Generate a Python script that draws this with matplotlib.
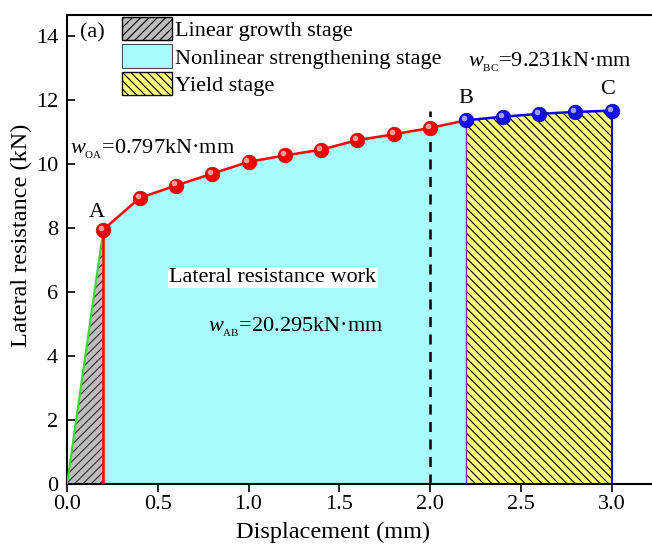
import numpy as np
import matplotlib
matplotlib.use("Agg")
import matplotlib.pyplot as plt
from matplotlib.patches import Patch
from matplotlib.transforms import ScaledTranslation

plt.rcParams['font.family'] = ['Liberation Serif']
plt.rcParams['mathtext.fontset'] = 'custom'
plt.rcParams['mathtext.rm'] = 'Liberation Serif'
plt.rcParams['mathtext.it'] = 'Liberation Serif:italic'
plt.rcParams['hatch.linewidth'] = 0.8

# displacement (mm) and lateral resistance (kN)
disp = [0.2, 0.4, 0.6, 0.8, 1.0, 1.2, 1.4, 1.6, 1.8, 2.0, 2.2, 2.4, 2.6, 2.8, 3.0]
load = [7.95, 8.94, 9.33, 9.70, 10.07, 10.27, 10.45, 10.75, 10.93, 11.13,
        11.37, 11.48, 11.57, 11.63, 11.67]
i_B = 10  # index of point B (2.2 mm)
x_dash = 2.0

stage_labels = ["Linear growth stage", "Nonlinear strengthening stage", "Yield stage"]
work_labels = ["0.797", "20.295", "9.231"]

cyan = "#a9fcfc"
yellow = "#ffff80"
gray = "#bdbdbd"

fig = plt.figure(figsize=(6.52, 5.55), dpi=100)
ax = fig.add_axes([67/652, 71/555, 590/652, 469/555])

xA, yA = disp[0], load[0]
# linear stage
ax.fill([0, xA, xA], [0, yA, 0], facecolor=gray, edgecolor="#303030", hatch="////", lw=0)
ax.plot([0, xA], [0, yA], color="#33dd33", lw=1.5, zorder=3)
# nonlinear stage
ax.fill_between(disp[:i_B+1], load[:i_B+1], 0, facecolor=cyan, lw=0)
ax.plot([xA, xA], [0, yA], color="red", lw=1.8, zorder=3)
# yield stage
ax.fill_between(disp[i_B:], load[i_B:], 0, facecolor=yellow, edgecolor="black", hatch="\\\\\\\\", lw=0)
ax.plot([disp[i_B], disp[i_B]], [0, load[i_B]], color="#7030a0", lw=1.0, zorder=3)
ax.plot([disp[-1], disp[-1]], [0, load[-1]], color="blue", lw=1.5, zorder=3)

# dashed line at 2.0 mm
ax.plot([x_dash, x_dash], [0, 11.65], color="black", ls=(0, (4, 3)), lw=1.8, zorder=4)

# curves with "ball" markers
ax.plot(disp[:i_B+1], load[:i_B+1], color="red", lw=1.8, zorder=5)
ax.plot(disp[i_B:], load[i_B:], color="blue", lw=1.8, zorder=5)
ax.plot(disp[:i_B], load[:i_B], ls="none", marker="o", ms=10.5, mfc="#ee0000",
        mec="#cc0000", mew=0.5, zorder=6)
ax.plot(disp[i_B:], load[i_B:], ls="none", marker="o", ms=10.5, mfc="#1010ee",
        mec="#0000bb", mew=0.5, zorder=6)
hl = ax.transData + ScaledTranslation(-1.5/72, 1.5/72, fig.dpi_scale_trans)
ax.plot(disp[:i_B], load[:i_B], ls="none", marker="o", ms=4, mfc="#ffb0b0",
        mec="none", alpha=0.9, transform=hl, zorder=7)
ax.plot(disp[i_B:], load[i_B:], ls="none", marker="o", ms=4, mfc="#b0b0ff",
        mec="none", alpha=0.9, transform=hl, zorder=7)

# annotations
ax.text(0.165, 8.5, "A", fontsize=16, ha="center", va="center")
ax.text(2.196, 12.06, "B", fontsize=16, ha="center", va="center")
ax.text(2.98, 12.34, "C", fontsize=16, ha="center", va="center")
ax.text(0.015, 10.45, r"$w_{\mathrm{_{OA}}}$=" + work_labels[0] + "kN·mm", fontsize=16, va="center")
ax.text(1.26, 4.9, r"$w_{\mathrm{_{AB}}}$=" + work_labels[1] + "kN·mm", fontsize=16, ha="center", va="center")
ax.text(2.66, 13.19, r"$w_{\mathrm{_{BC}}}$=" + work_labels[2] + "kN·mm", fontsize=16, ha="center", va="center")
ax.text(1.134, 6.45, "Lateral resistance work", fontsize=16, ha="center", va="center",
        bbox=dict(facecolor="white", edgecolor="none", pad=1))
ax.text(0.07, 14.1, "(a)", fontsize=16, va="center")

handles = [Patch(facecolor=gray, edgecolor="black", hatch="////"),
           Patch(facecolor=cyan, edgecolor="black", lw=0.5),
           Patch(facecolor=yellow, edgecolor="black", hatch="\\\\\\\\")]
ax.legend(handles, stage_labels, loc="upper left", bbox_to_anchor=(55/590, 0.996), frameon=False,
          fontsize=16, handlelength=2.25, handleheight=1.25, handletextpad=0.15, labelspacing=0.15,
          borderaxespad=0, borderpad=0)

ax.set_xlim(0, 3.25)
ax.set_ylim(0, 14.66)
ax.set_xticks([0, 0.5, 1.0, 1.5, 2.0, 2.5, 3.0])
ax.set_xticklabels(["0.0", "0.5", "1.0", "1.5", "2.0", "2.5", "3.0"])
ax.set_yticks(range(0, 15, 2))
ax.tick_params(axis="x", direction="out", length=6, width=1.2, labelsize=16, pad=2)
ax.tick_params(axis="y", direction="in", length=6, width=1.2, labelsize=16, pad=6.5)
ax.spines["right"].set_visible(False)
for s in ["left", "bottom", "top"]:
    ax.spines[s].set_linewidth(1.5)
ax.set_xlabel("Displacement (mm)", fontsize=17.5)
ax.xaxis.set_label_coords(266/590, -38/469)
ax.set_ylabel("Lateral resistance (kN)", fontsize=17.5)
ax.yaxis.set_label_coords(-35/590, 0.53)

fig.savefig("out.png", dpi=100)
